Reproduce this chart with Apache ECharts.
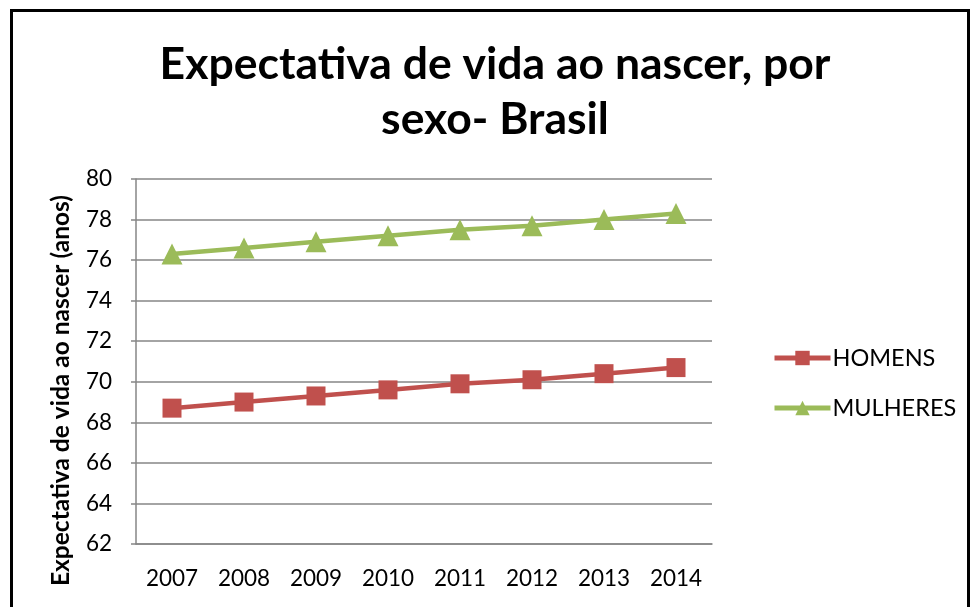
<!DOCTYPE html>
<html>
<head>
<meta charset="utf-8">
<script src="https://cdn.jsdelivr.net/npm/echarts@6/dist/echarts.min.js"></script>
<style>
    html, body { margin: 0; padding: 0; background: #fff; overflow: hidden; }
    #frame { position: absolute; left: 10px; top: 9px; width: 954px; height: 700px; border: 3px solid #000; }
    #container { position: absolute; left: 0; top: 0; width: 971px; height: 607px; }
</style>
</head>
<body>
<div id="frame"></div>
<div id="container"></div>
<script>
var anos = ['2007', '2008', '2009', '2010', '2011', '2012', '2013', '2014'];
var homens = [68.7, 69.0, 69.3, 69.6, 69.9, 70.1, 70.4, 70.7];
var mulheres = [76.3, 76.6, 76.9, 77.2, 77.5, 77.7, 78.0, 78.3];
var nomes = ['HOMENS', 'MULHERES'];

var dom = document.getElementById("container");
var myChart = echarts.init(dom);

var fonte = 'Lato, "Open Sans", sans-serif';

var option = {
    animation: false,
    title: {
        text: 'Expectativa de vida ao nascer, por\nsexo- Brasil',
        left: 490,
        top: 32,
        textAlign: 'center',
        textStyle: {
            fontFamily: fonte,
            fontSize: 44.5,
            fontWeight: 'bold',
            color: '#000',
            lineHeight: 55
        }
    },
    color: ['#C0504D', '#9BBB59'],
    legend: {
        orient: 'vertical',
        left: 767,
        top: 341,
        itemWidth: 56,
        itemHeight: 18,
        itemGap: 26,
        lineStyle: { width: 5 },
        textStyle: { fontFamily: fonte, fontSize: 23.5, color: '#000', padding: [0, 0, 0, -3] },
        data: nomes
    },
    grid: {
        left: 136,
        right: 259,
        top: 179,
        bottom: 63
    },
    xAxis: {
        type: 'category',
        data: anos,
        boundaryGap: true,
        axisLine: { lineStyle: { color: '#868686', width: 1.5 } },
        axisTick: { show: false },
        axisLabel: { fontFamily: fonte, fontSize: 22.5, color: '#000', margin: 23 }
    },
    yAxis: {
        type: 'value',
        min: 62,
        max: 80,
        interval: 2,
        name: 'Expectativa de vida ao nascer (anos)',
        nameLocation: 'middle',
        nameGap: 62,
        nameTextStyle: { fontFamily: fonte, fontSize: 24.5, fontWeight: 'bold', color: '#000', padding: [0, 58, 0, 0] },
        axisLine: { show: true, lineStyle: { color: '#868686', width: 1.5 } },
        axisTick: { show: true, length: 5, lineStyle: { color: '#868686', width: 1.5 } },
        axisLabel: { fontFamily: fonte, fontSize: 22.5, color: '#000', margin: 24 },
        splitLine: { lineStyle: { color: '#868686', width: 1.5 } }
    },
    series: [{
        name: 'HOMENS',
        type: 'line',
        data: homens,
        symbol: 'rect',
        symbolSize: 19,
        lineStyle: { width: 4.5 },
        itemStyle: { color: '#C0504D' }
    }, {
        name: 'MULHERES',
        type: 'line',
        data: mulheres,
        symbol: 'triangle',
        symbolSize: 21,
        lineStyle: { width: 4.5 },
        itemStyle: { color: '#9BBB59' }
    }]
};
myChart.setOption(option, true);
</script>
</body>
</html>
